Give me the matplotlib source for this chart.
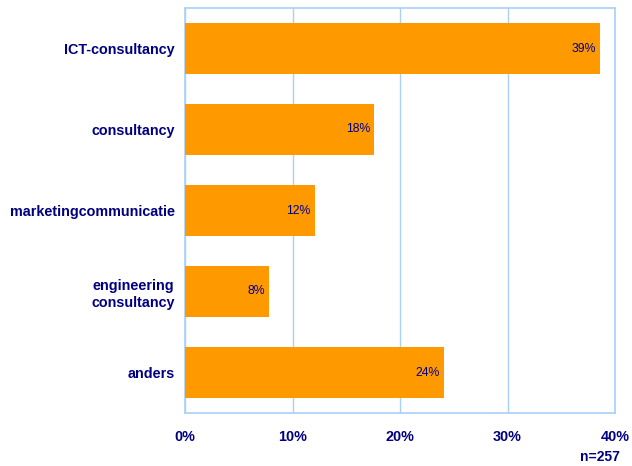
import matplotlib
matplotlib.use("Agg")
import matplotlib.pyplot as plt
from matplotlib.ticker import FuncFormatter

plt.rcParams['font.family'] = ['Liberation Sans', 'DejaVu Sans']

categories = ["ICT-consultancy", "consultancy", "marketingcommunicatie",
              "engineering\nconsultancy", "anders"]
shares = [38.6, 17.6, 12.1, 7.8, 24.1]
x_ticks = [0, 10, 20, 30, 40]
sample_note = "n=257"

navy = "#000080"
bar_color = "#FF9900"
grid_color = "#A8D0F8"

fig = plt.figure(figsize=(6.32, 4.66), dpi=100)
ax = fig.add_axes([185 / 632, 1 - 413 / 466, 430 / 632, 405 / 466])

pos = list(range(len(categories)))
bars = ax.barh(pos, shares, height=0.63, color=bar_color, zorder=3)
ax.set_ylim(len(categories) - 0.5, -0.5)
ax.set_xlim(0, 40)

for rect, v in zip(bars, shares):
    ax.annotate(f"{v:.0f}%", xy=(rect.get_width(), rect.get_y() + rect.get_height() / 2),
                xytext=(-3, 0), textcoords="offset points", ha="right", va="center",
                fontsize=8.8, color=navy, zorder=4)

ax.set_yticks(pos)
ax.set_yticklabels(categories, fontsize=10.4, fontweight="bold", color=navy,
                   multialignment="center", linespacing=1.25)
ax.set_xticks(x_ticks)
ax.xaxis.set_major_formatter(FuncFormatter(lambda v, _: f"{v:.0f}%"))
for lab in ax.get_xticklabels():
    lab.set_fontsize(10.4)
    lab.set_fontweight("bold")
    lab.set_color(navy)
ax.tick_params(axis="both", length=0)
ax.tick_params(axis="y", pad=7.5)
ax.tick_params(axis="x", pad=12)

ax.grid(axis="x", color=grid_color, linewidth=1, zorder=0)
for s in ax.spines.values():
    s.set_color(grid_color)
    s.set_linewidth(1.2)

fig.text(620 / 632, 1 - 457 / 466, sample_note, ha="right", va="center",
         fontsize=10, fontweight="bold", color=navy)

fig.savefig("out.png", dpi=100)
